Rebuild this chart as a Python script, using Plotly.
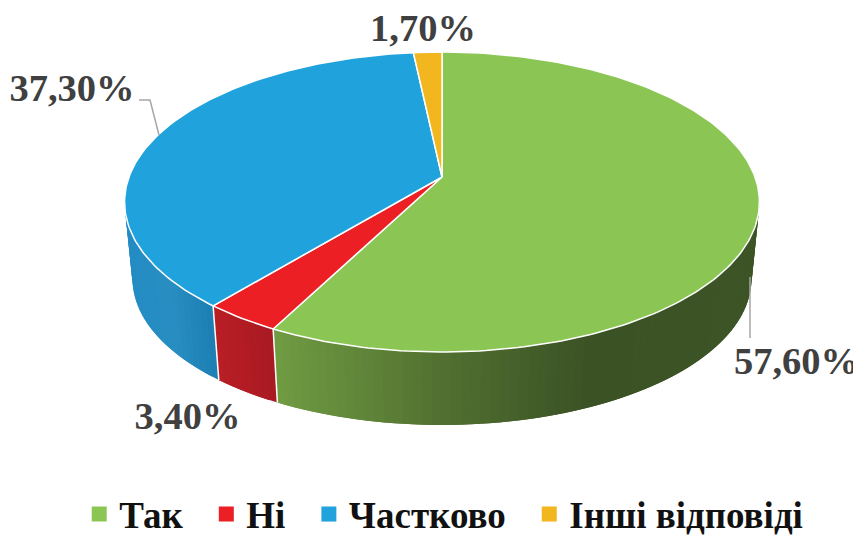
import math
import plotly.graph_objects as go

categories = ["Так", "Ні", "Частково", "Інші відповіді"]
values = [57.6, 3.4, 37.3, 1.7]
value_labels = ["57,60%", "3,40%", "37,30%", "1,70%"]
top_colors = ["#8BC655", "#EC1F24", "#20A3DC", "#F2B61F"]

# wall shading: (screen x, colour) stops for each slice
wall_stops = [
    [(272, (112, 156, 66)), (450, (80, 110, 48)), (590, (59, 82, 37)), (760, (60, 84, 38))],
    [(213, (186, 30, 37)), (275, (168, 26, 34))],
    [(125, (36, 140, 196)), (170, (40, 142, 194)), (216, (27, 125, 177))],
    [(400, (200, 150, 25)), (445, (200, 150, 25))],
]

# label layout (pixel coordinates on the hidden axes)
label_pos = [(796.5, 364), (187.5, 419), (72, 91), (423, 31)]
CX, CY, A, B, K = 442, 177, 313, 145.8, 1 / 6
SCALE, DEPTH = 0.975, 77.4


def project(theta, bottom=False):
    t = math.radians(theta)
    d = 1 + K * math.cos(t)
    dx, dy = A * math.sin(t) / d, -B * math.cos(t) / d
    if bottom:
        return CX + SCALE * dx, CY + SCALE * dy + DEPTH
    return CX + dx, CY + dy


def shade(stops, x):
    if x <= stops[0][0]:
        return "rgb(%d,%d,%d)" % stops[0][1]
    for (x0, c0), (x1, c1) in zip(stops, stops[1:]):
        if x <= x1:
            f = (x - x0) / (x1 - x0)
            return "rgb(%d,%d,%d)" % tuple(round(a + (b - a) * f) for a, b in zip(c0, c1))
    return "rgb(%d,%d,%d)" % stops[-1][1]


fig = go.Figure()
angles = []
acc = 0.0
total = sum(values)
for v in values:
    angles.append((acc * 360 / total, (acc + v) * 360 / total))
    acc += v

# outer walls: each strip overlaps the next so no seams show
WALL_FROM, WALL_TO = 92, 272
for i, (a0, a1) in enumerate(angles):
    lo, hi = max(a0, WALL_FROM), min(a1, WALL_TO)
    if hi <= lo:
        continue
    n = max(2, int((hi - lo) / 1.5))
    step = (hi - lo) / n
    for j in range(n):
        t0 = lo + step * j
        t1 = min(hi, t0 + 2 * step)
        p = [project(t0), project(t1), project(t1, True), project(t0, True)]
        col = shade(wall_stops[i], project(t0 + step / 2)[0])
        fig.add_trace(go.Scatter(
            x=[q[0] for q in p] + [p[0][0]], y=[q[1] for q in p] + [p[0][1]],
            mode="lines", fill="toself", fillcolor=col, line=dict(color=col, width=0),
            hoverinfo="skip", showlegend=False))

# white seams between walls
for a0, a1 in angles:
    if WALL_FROM < a1 < WALL_TO:
        p, q = project(a1), project(a1, True)
        fig.add_trace(go.Scatter(x=[p[0], q[0]], y=[p[1], q[1]], mode="lines",
                                 line=dict(color="white", width=1.5),
                                 hoverinfo="skip", showlegend=False))

# top faces
for i, (a0, a1) in enumerate(angles):
    n = max(4, int((a1 - a0) / 1))
    pts = [project(a0 + (a1 - a0) * j / n) for j in range(n + 1)]
    xs = [CX] + [p[0] for p in pts] + [CX]
    ys = [CY] + [p[1] for p in pts] + [CY]
    fig.add_trace(go.Scatter(x=xs, y=ys, mode="lines", fill="toself", fillcolor=top_colors[i],
                             line=dict(color="white", width=1.5), name=categories[i],
                             hovertemplate=categories[i] + ": " + value_labels[i] + "<extra></extra>",
                             showlegend=False))

# legend entries (trailing non-breaking spaces set the gap to the next entry)
for i, c in enumerate(categories):
    fig.add_trace(go.Scatter(x=[None], y=[None], mode="markers", name=c + "\u00a0\u00a0",
                             marker=dict(symbol="square", size=15, color=top_colors[i])))

# data labels
fig.add_trace(go.Scatter(
    x=[p[0] for p in label_pos], y=[p[1] for p in label_pos], text=value_labels, mode="text",
    textposition="middle center", cliponaxis=False,
    textfont=dict(family="Liberation Serif", size=38.5, color="#404040", weight="bold"),
    hoverinfo="skip", showlegend=False))

leader = dict(color="#A6A6A6", width=1.5)
fig.add_shape(type="path", path="M 139 100 L 150 100 L 159 135", line=leader, layer="above")
fig.add_shape(type="line", x0=750, x1=750, y0=277, y1=338, line=leader, layer="above")

# the page has an 8 px margin, so the axes start at 8 to keep 1 unit = 1 screen pixel
fig.update_layout(
    width=853, height=528, margin=dict(l=0, r=0, t=0, b=0, autoexpand=False),
    paper_bgcolor="white", plot_bgcolor="white",
    xaxis=dict(range=[8, 861], visible=False, fixedrange=True),
    yaxis=dict(range=[536, 8], visible=False, fixedrange=True),
    legend=dict(orientation="h", x=0.0835, y=-0.018, xanchor="left", yanchor="bottom",
                font=dict(family="Liberation Serif", size=37, color="#111111", weight="bold"),
                bgcolor="rgba(0,0,0,0)", itemwidth=30, itemclick=False, itemdoubleclick=False),
)
fig.write_html("out.html")
